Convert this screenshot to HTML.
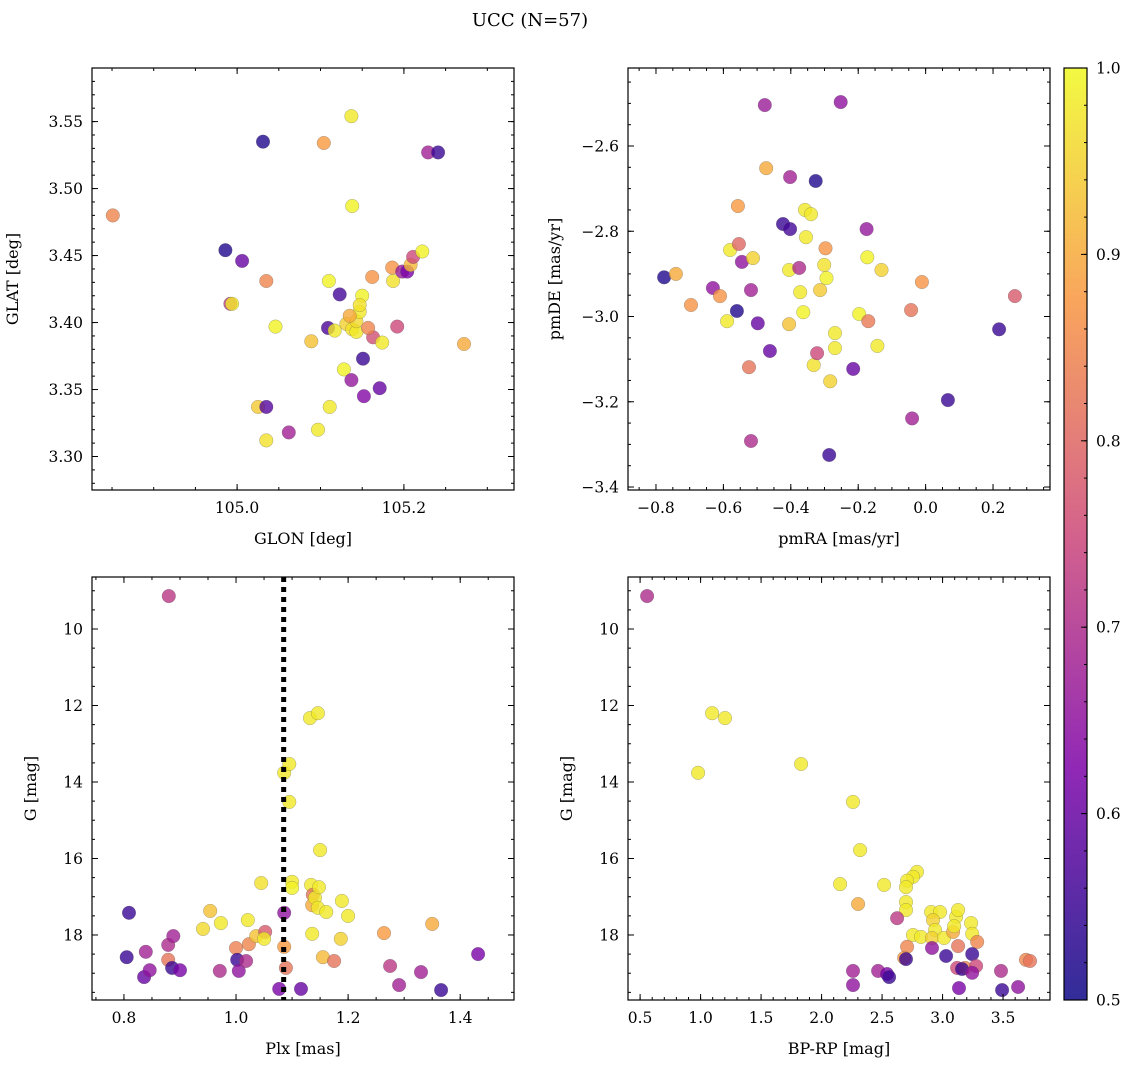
<!DOCTYPE html>
<html><head><meta charset="utf-8">
<style>
html,body{margin:0;padding:0;background:#fff;}
svg{display:block;font-family:"DejaVu Serif","Liberation Serif",serif;}
</style></head>
<body>
<svg id="fig" width="1136" height="1067" viewBox="0 0 1136 1067" xmlns="http://www.w3.org/2000/svg">
<text x="530" y="26" font-size="18" text-anchor="middle">UCC (N=57)</text>
<defs>
<linearGradient id="plasma" x1="0" y1="1" x2="0" y2="0">
<stop offset="0" stop-color="#0d0887"/><stop offset="0.25" stop-color="#7e03a8"/><stop offset="0.5" stop-color="#cc4778"/><stop offset="0.75" stop-color="#f89540"/><stop offset="1" stop-color="#f0f921"/>
</linearGradient>
</defs>
</svg>
<script>
// ---- data ----
const glon=[104.851,104.986,105.006,104.992,104.994,105.035,105.046,105.031,105.104,105.137,105.138,105.229,105.241,105.110,105.123,105.109,105.117,105.089,105.131,105.138,105.143,105.143,105.147,105.150,105.147,105.135,105.151,105.128,105.137,105.152,105.171,105.163,105.174,105.157,105.192,105.162,105.186,105.187,105.198,105.204,105.208,105.211,105.222,105.272,105.025,105.035,105.035,105.062,105.097,105.111];
const glat=[3.480,3.454,3.446,3.414,3.414,3.431,3.397,3.535,3.534,3.554,3.487,3.527,3.527,3.431,3.421,3.396,3.394,3.386,3.399,3.395,3.393,3.401,3.408,3.420,3.413,3.405,3.373,3.365,3.357,3.345,3.351,3.389,3.385,3.396,3.397,3.434,3.441,3.431,3.438,3.438,3.443,3.449,3.453,3.384,3.337,3.337,3.312,3.318,3.320,3.337];
const probTL=[.85,.52,.6,.72,.98,.85,.99,.52,.88,.98,.99,.68,.55,.99,.56,.57,.98,.93,.95,.97,.98,.96,.98,.99,.97,.9,.55,.99,.66,.63,.6,.76,.98,.85,.75,.87,.87,.97,.67,.62,.92,.75,.99,.9,.94,.58,.97,.68,.98,.98];

const pmra=[-0.776,-0.741,-0.696,-0.631,-0.610,-0.580,-0.589,-0.557,-0.554,-0.545,-0.560,-0.512,-0.518,-0.498,-0.524,-0.518,-0.477,-0.473,-0.462,-0.423,-0.402,-0.402,-0.405,-0.405,-0.375,-0.372,-0.363,-0.358,-0.340,-0.355,-0.326,-0.332,-0.322,-0.313,-0.301,-0.297,-0.294,-0.283,-0.286,-0.269,-0.269,-0.252,-0.215,-0.175,-0.173,-0.197,-0.170,-0.143,-0.131,-0.043,-0.011,-0.040,0.066,0.218,0.265];
const pmde=[-2.908,-2.900,-2.973,-2.933,-2.952,-2.844,-3.011,-2.741,-2.830,-2.872,-2.987,-2.863,-2.938,-3.016,-3.119,-3.292,-2.504,-2.652,-3.081,-2.783,-2.795,-2.673,-2.891,-3.018,-2.886,-2.943,-2.990,-2.750,-2.760,-2.814,-2.682,-3.114,-3.086,-2.938,-2.879,-2.840,-2.910,-3.152,-3.325,-3.039,-3.074,-2.497,-3.123,-2.795,-2.861,-2.994,-3.011,-3.069,-2.891,-2.985,-2.919,-3.239,-3.196,-3.030,-2.952];
const probTR=[.52,.9,.87,.65,.87,.98,.98,.88,.8,.65,.52,.95,.68,.6,.82,.7,.67,.9,.6,.55,.56,.68,.98,.93,.7,.98,.99,.98,.98,.98,.52,.97,.75,.94,.97,.87,.99,.95,.55,.98,.98,.65,.6,.66,.99,.99,.83,.98,.95,.82,.87,.68,.55,.55,.78];

const plx=[0.880,0.809,0.805,0.839,0.836,0.846,0.879,0.879,0.888,0.886,0.900,0.941,0.954,0.971,0.973,1.000,1.002,1.005,1.018,1.023,1.021,1.036,1.052,1.050,1.045,1.077,1.086,1.086,1.089,1.086,1.095,1.095,1.100,1.100,1.116,1.132,1.146,1.134,1.137,1.136,1.141,1.148,1.146,1.136,1.161,1.150,1.155,1.175,1.189,1.187,1.200,1.264,1.275,1.291,1.330,1.350,1.366,1.432];
const gmagBL=[9.14,17.42,18.58,18.44,19.10,18.92,18.26,18.65,18.03,18.86,18.92,17.84,17.37,18.94,17.69,18.34,18.65,18.94,18.68,18.24,17.61,18.03,17.92,18.10,16.64,19.41,17.42,18.31,18.86,13.76,13.53,14.52,16.61,16.77,19.41,12.33,12.20,16.69,16.95,17.22,17.03,16.75,17.29,17.97,17.40,15.78,18.58,18.68,17.11,18.10,17.50,17.95,18.81,19.31,18.97,17.71,19.44,18.50];
const probBL=[.72,.55,.55,.68,.6,.65,.7,.82,.68,.55,.62,.96,.93,.7,.98,.84,.55,.65,.7,.85,.98,.93,.78,.98,.97,.62,.65,.88,.82,.98,.98,.98,.98,.99,.6,.98,.98,.98,.82,.9,.98,.98,.98,.98,.98,.98,.92,.82,.98,.95,.98,.88,.72,.68,.68,.9,.55,.62];
const plxLine=1.085;

const bprp=[0.558,1.095,1.202,0.979,1.831,2.260,2.318,2.153,2.302,2.517,2.789,2.756,2.707,2.698,2.698,2.698,2.624,2.756,2.707,2.683,2.698,2.467,2.541,2.558,2.260,2.260,2.822,2.905,2.979,2.921,2.938,2.913,3.012,3.087,3.112,3.128,3.095,3.128,2.913,3.029,3.120,3.186,3.161,3.136,3.236,3.245,3.286,3.245,3.277,3.245,3.483,3.492,3.624,3.690,3.723];
const gmagBR=[9.14,12.20,12.33,13.76,13.53,14.52,15.78,16.67,17.19,16.69,16.35,16.48,16.58,16.75,17.14,17.35,17.56,18.00,18.31,18.60,18.63,18.94,19.02,19.10,18.94,19.31,18.05,17.40,17.40,17.61,17.87,18.08,18.08,17.92,17.53,17.35,17.77,18.29,18.34,18.55,18.86,18.86,18.89,19.39,17.69,17.97,18.18,18.50,18.81,18.99,18.94,19.44,19.36,18.65,18.68];
const probBR=[.7,.98,.98,.98,.98,.98,.98,.98,.9,.98,.98,.98,.98,.98,.98,.98,.72,.98,.85,.88,.55,.68,.62,.55,.68,.65,.98,.98,.98,.95,.98,.95,.98,.9,.98,.98,.98,.82,.65,.55,.75,.85,.55,.62,.98,.98,.85,.55,.75,.65,.7,.55,.65,.85,.82];

const cbTicks=[0.5,0.6,0.7,0.8,0.9,1.0];

// ---- helpers ----
const NS='http://www.w3.org/2000/svg';
const svg=document.getElementById('fig');
function mk(tag,at,parent){const e=document.createElementNS(NS,tag);for(const k in at)e.setAttribute(k,at[k]);(parent||svg).appendChild(e);return e;}
const stops=[[0,[13,8,135]],[0.25,[126,3,168]],[0.5,[204,71,120]],[0.75,[248,149,64]],[1,[240,249,33]]];
function plasma(p){let t=Math.max(0,Math.min(1,(p-0.5)/0.5));for(let i=1;i<stops.length;i++){if(t<=stops[i][0]){const a=stops[i-1],b=stops[i];const f=(t-a[0])/(b[0]-a[0]);const c=a[1].map((v,j)=>Math.round(v+(b[1][j]-v)*f));return `rgb(${c[0]},${c[1]},${c[2]})`;}}return 'rgb(240,249,33)';}
function fmt(v,d){return (v<0?'\u2212':'')+Math.abs(v).toFixed(d);}

function panel(cfg){
  const g=mk('g',{});
  
  
  const {x0,y0,w,h,xd,yd}=cfg;
  const sx=v=>x0+(v-xd[0])/(xd[1]-xd[0])*w;
  const sy=v=>cfg.yinv? y0+(v-yd[0])/(yd[1]-yd[0])*h : y0+h-(v-yd[0])/(yd[1]-yd[0])*h;
  // points
  const pg=mk('g',{},g);
  cfg.xs.forEach((xv,i)=>{
    const c=mk('circle',{cx:sx(xv).toFixed(1),cy:sy(cfg.ys[i]).toFixed(1),r:6.8,fill:plasma(cfg.ps[i]),'fill-opacity':0.8,stroke:'#555','stroke-width':0.4,'stroke-opacity':0.6},pg);
    
    
  });
  if(cfg.vline!==undefined){
    const l=mk('line',{x1:sx(cfg.vline),x2:sx(cfg.vline),y1:y0,y2:y0+h,stroke:'#000','stroke-width':5,'stroke-dasharray':'5,5'},g);
    
    
  }
  // ticks
  const tg=mk('g',{stroke:'#000','stroke-width':1},g);
  const eps=1e-9;
  function each(a,b,s,f){const n0=Math.ceil((a-eps)/s),n1=Math.floor((b+eps)/s);for(let n=n0;n<=n1;n++)f(+(n*s).toFixed(6));}
  each(xd[0],xd[1],cfg.xminor,v=>{const x=sx(v);mk('line',{x1:x,x2:x,y1:y0+h,y2:y0+h-3},tg);mk('line',{x1:x,x2:x,y1:y0,y2:y0+3},tg);});
  each(yd[0],yd[1],cfg.yminor,v=>{const y=sy(v);mk('line',{x1:x0,x2:x0+3,y1:y,y2:y},tg);mk('line',{x1:x0+w,x2:x0+w-3,y1:y,y2:y},tg);});
  cfg.xticks.forEach(v=>{const x=sx(v);mk('line',{x1:x,x2:x,y1:y0+h,y2:y0+h-6},tg);mk('line',{x1:x,x2:x,y1:y0,y2:y0+6},tg);
    const t=mk('text',{x:x,y:y0+h+23,'font-size':15.5,'text-anchor':'middle'},g);t.textContent=fmt(v,cfg.xdec);
    });
  cfg.yticks.forEach(v=>{const y=sy(v);mk('line',{x1:x0,x2:x0+6,y1:y,y2:y},tg);mk('line',{x1:x0+w,x2:x0+w-6,y1:y,y2:y},tg);
    const t=mk('text',{x:x0-9,y:y+5.5,'font-size':15.5,'text-anchor':'end'},g);t.textContent=fmt(v,cfg.ydec);
    });
  const fr=mk('rect',{x:x0,y:y0,width:w,height:h,fill:'none',stroke:'#000','stroke-width':1.2},g);
  
  const xt=mk('text',{x:x0+w/2,y:y0+h+54,'font-size':16,'text-anchor':'middle'},g);xt.textContent=cfg.xlabel;
  
  const yx=x0-cfg.ylabOff;
  const yt=mk('text',{x:yx,y:y0+h/2,'font-size':16,'text-anchor':'middle',transform:`rotate(-90 ${yx} ${y0+h/2})`},g);yt.textContent=cfg.ylabel;
  
}

panel({name:'glon-glat-panel',x0:92,y0:68,w:422,h:422,xd:[104.826,105.332],yd:[3.275,3.590],xs:glon,ys:glat,ps:probTL,
  xticks:[105.0,105.2],xminor:0.05,xdec:1,yticks:[3.30,3.35,3.40,3.45,3.50,3.55],yminor:0.01,ydec:2,xlabel:'GLON [deg]',ylabel:'GLAT [deg]',ylabOff:74});
panel({name:'proper-motion-panel',x0:628,y0:68,w:422,h:422,xd:[-0.883,0.369],yd:[-3.407,-2.417],xs:pmra,ys:pmde,ps:probTR,
  xticks:[-0.8,-0.6,-0.4,-0.2,0.0,0.2],xminor:0.05,xdec:1,yticks:[-3.4,-3.2,-3.0,-2.8,-2.6],yminor:0.05,ydec:1,xlabel:'pmRA [mas/yr]',ylabel:'pmDE [mas/yr]',ylabOff:68});
panel({name:'plx-g-panel',x0:92,y0:577,w:422,h:423,xd:[0.743,1.496],yd:[8.64,19.70],yinv:true,xs:plx,ys:gmagBL,ps:probBL,vline:plxLine,
  xticks:[0.8,1.0,1.2,1.4],xminor:0.05,xdec:1,yticks:[10,12,14,16,18],yminor:0.5,ydec:0,xlabel:'Plx [mas]',ylabel:'G [mag]',ylabOff:56});
panel({name:'cmd-panel',x0:628,y0:577,w:422,h:423,xd:[0.40,3.888],yd:[8.64,19.70],yinv:true,xs:bprp,ys:gmagBR,ps:probBR,
  xticks:[0.5,1.0,1.5,2.0,2.5,3.0,3.5],xminor:0.1,xdec:1,yticks:[10,12,14,16,18],yminor:0.5,ydec:0,xlabel:'BP-RP [mag]',ylabel:'G [mag]',ylabOff:56});

// colorbar
(function(){
  const g=mk('g',{});
  
  
  const x=1064,y=68,w=23,h=932;
  mk('rect',{x:x,y:y,width:w,height:h,fill:'url(#plasma)','fill-opacity':0.85,stroke:'#000','stroke-width':1.2},g);
  const sy=v=>y+h-(v-0.5)/0.5*h;
  for(let n=25;n<=50;n++){const v=n/50;const yy=sy(v);mk('line',{x1:x+w,x2:x+w-3,y1:yy,y2:yy,stroke:'#000'},g);}
  cbTicks.forEach(v=>{const yy=sy(v);mk('line',{x1:x+w,x2:x+w-6,y1:yy,y2:yy,stroke:'#000'},g);
    const t=mk('text',{x:x+w+9,y:yy+5.5,'font-size':15.5},g);t.textContent=v.toFixed(1);
    });
})();
</script>
</body></html>
